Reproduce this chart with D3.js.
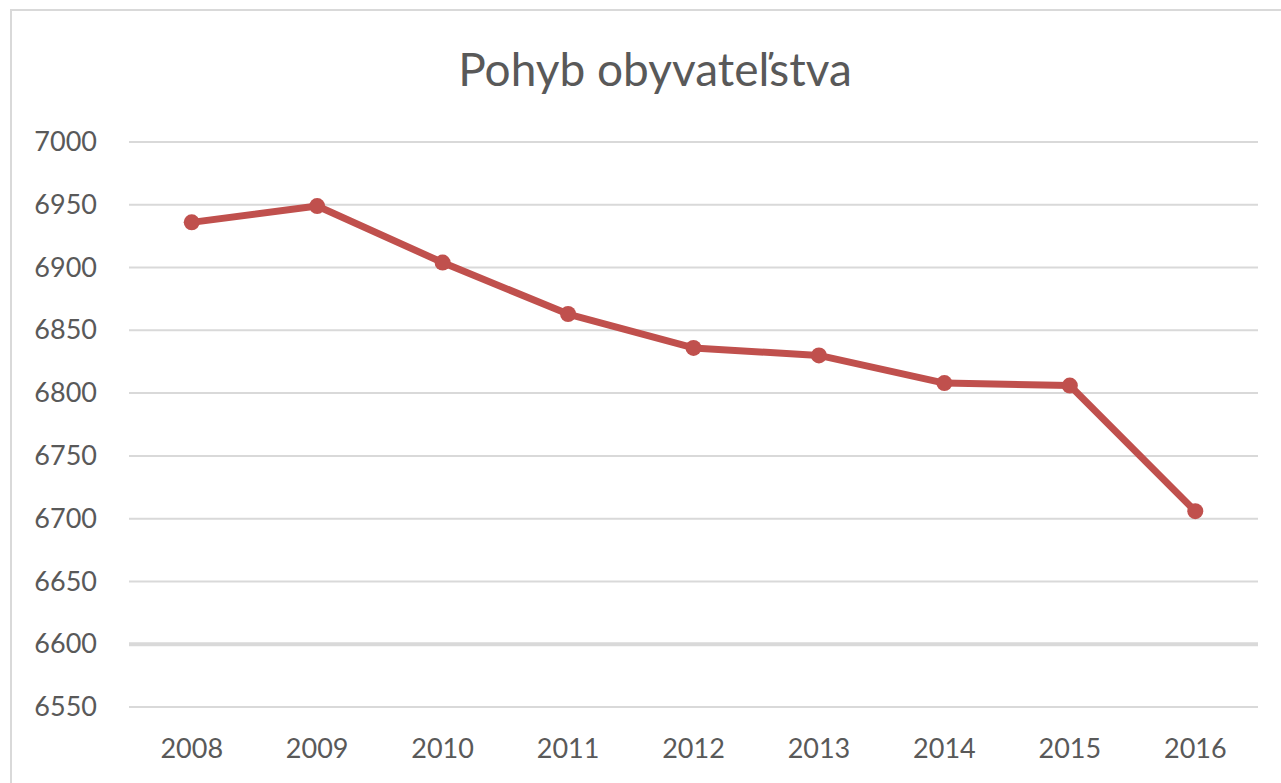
<!DOCTYPE html>
<html>
<head>
<meta charset="utf-8">
<script src="https://cdn.jsdelivr.net/npm/d3@7"></script>
<style>
  body { margin: 0; background: #fff; }
  text { font-family: Lato, "Open Sans", sans-serif; fill: #595959; }
</style>
</head>
<body>
<svg id="svg" width="1281" height="783"></svg>
<script>
const years = ['2008', '2009', '2010', '2011', '2012', '2013', '2014', '2015', '2016']
const population = [6936, 6949, 6904, 6863, 6836, 6830, 6808, 6806, 6706]
const yTicks = [6550, 6600, 6650, 6700, 6750, 6800, 6850, 6900, 6950, 7000]
const title = 'Pohyb obyvateľstva'

const svg = d3.select('#svg')

// chart frame (only left/top edges visible in the crop)
svg.append('rect')
  .attr('x', 11).attr('y', 10)
  .attr('width', 1300).attr('height', 800)
  .attr('fill', '#fff')
  .attr('stroke', '#d9d9d9')
  .attr('stroke-width', 2)

const plotLeft = 129, plotRight = 1258, plotTop = 142, plotBottom = 707

const x = d3.scaleBand().domain(years).range([plotLeft, plotRight])
const y = d3.scaleLinear().domain([6550, 7000]).range([plotBottom, plotTop])

// gridlines
svg.append('g')
  .selectAll('line')
  .data(yTicks)
  .enter()
  .append('line')
  .attr('x1', plotLeft).attr('x2', plotRight)
  .attr('y1', d => y(d)).attr('y2', d => y(d))
  .attr('stroke', '#d9d9d9')
  .attr('stroke-width', d => d === 6600 ? 4 : 2)

// y axis labels
const yAxis = svg.append('g')
  .attr('transform', `translate(${plotLeft - 32},0)`)
  .call(d3.axisLeft(y).tickValues(yTicks).tickFormat(d3.format('d')).tickSize(0).tickPadding(0))
yAxis.select('.domain').remove()
yAxis.selectAll('text')
  .attr('font-size', 27)
  .attr('font-family', 'Lato, sans-serif')
  .attr('fill', '#595959')

// x axis labels
const xAxis = svg.append('g')
  .attr('transform', `translate(0,${plotBottom + 32})`)
  .call(d3.axisBottom(x).tickSize(0).tickPadding(0))
xAxis.select('.domain').remove()
xAxis.selectAll('text')
  .attr('font-size', 27)
  .attr('font-family', 'Lato, sans-serif')
  .attr('fill', '#595959')

// line
const pts = years.map((d, i) => [x(d) + x.bandwidth() / 2, y(population[i])])
svg.append('path')
  .datum(pts)
  .attr('d', d3.line())
  .attr('fill', 'none')
  .attr('stroke', '#c0504d')
  .attr('stroke-width', 7)
  .attr('stroke-linejoin', 'round')

svg.append('g')
  .selectAll('circle')
  .data(pts)
  .enter()
  .append('circle')
  .attr('cx', d => d[0])
  .attr('cy', d => d[1])
  .attr('r', 8)
  .attr('fill', '#c0504d')

// title
svg.append('text')
  .attr('x', 655)
  .attr('y', 86)
  .attr('text-anchor', 'middle')
  .attr('font-size', 46)
  .attr('fill', '#595959')
  .text(title)
</script>
</body>
</html>
